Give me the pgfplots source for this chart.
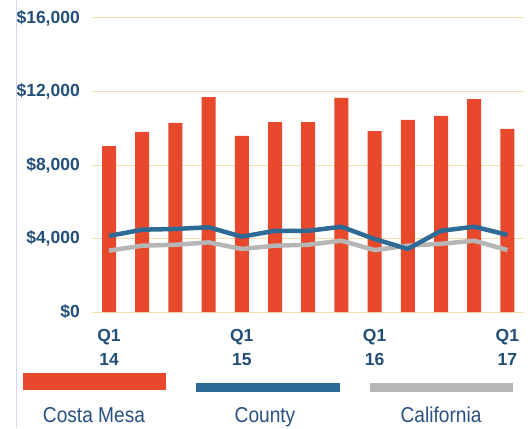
\documentclass[border=0pt]{standalone}
\usepackage{fontspec}
\setmainfont{Liberation Sans}
\newfontfamily\narrowfont{Liberation Sans}[FakeStretch=0.89]
\usepackage{pgfplots}
\pgfplotsset{compat=1.18}
\definecolor{cmred}{RGB}{232,72,44}
\definecolor{cblue}{RGB}{46,106,150}
\definecolor{cgray}{RGB}{182,182,182}
\definecolor{txtblue}{RGB}{34,78,120}
\definecolor{lgblue}{RGB}{40,80,130}
\definecolor{gridc}{RGB}{248,222,175}
\definecolor{lav}{RGB}{214,214,240}
\pgfplotstableread{
x cm county ca
0 9030 4140 3340
1 9800 4480 3610
2 10290 4520 3660
3 11700 4610 3790
4 9580 4100 3430
5 10340 4420 3610
6 10340 4420 3660
7 11650 4640 3880
8 9850 3970 3370
9 10450 3430 3610
10 10670 4420 3710
11 11590 4640 3880
12 9960 4200 3370
}\datatable
\begin{document}
\begin{tikzpicture}[x=1bp,y=1bp]
\useasboundingbox (0,0) rectangle (528,428);
\fill[white] (0,0) rectangle (528,428);
\draw[color=lav, line width=1.5bp] (16.5,0) -- (16.5,428);
\begin{axis}[
  at={(92.4bp,116bp)}, anchor=south west,
  scale only axis, width=431.6bp, height=294bp,
  xmin=-0.5, xmax=12.5, ymin=0, ymax=16000,
  scaled y ticks=false,
  axis line style={draw=none},
  major tick length=0pt,
  ymajorgrids, grid style={color=gridc, line width=1bp},
  ytick={0,4000,8000,12000,16000},
  yticklabels={{\$0},{\$4,000},{\$8,000},{\$12,000},{\$16,000}},
  yticklabel style={inner sep=0pt, xshift=-12.4bp, font=\fontsize{17.5bp}{20bp}\selectfont\bfseries, text=txtblue},
  xtick={0,4,8,12},
  xticklabels={{Q1\\14},{Q1\\15},{Q1\\16},{Q1\\17}},
  xticklabel style={inner sep=0pt, yshift=-17bp, align=center, font=\fontsize{17.5bp}{24bp}\selectfont\bfseries, text=txtblue},
  clip=false,
]
\addplot[ybar, bar width=14bp, fill=cmred, draw=none] table[x=x, y=cm] {\datatable};
\addplot[color=cgray, line width=4.5bp, line join=round, mark=none] table[x=x, y=ca] {\datatable};
\addplot[color=cblue, line width=4.5bp, line join=round, mark=none] table[x=x, y=county] {\datatable};
\end{axis}
\fill[cmred] (23,38) rectangle (166,55);
\fill[cblue] (196,36) rectangle (340,45);
\fill[cgray] (370,36) rectangle (513,45);
\node[anchor=base, inner sep=0pt, text=lgblue, font=\narrowfont\fontsize{21.5bp}{24bp}\selectfont] at (94,6) {Costa Mesa};
\node[anchor=base, inner sep=0pt, text=lgblue, font=\narrowfont\fontsize{21.5bp}{24bp}\selectfont] at (265,6) {County};
\node[anchor=base, inner sep=0pt, text=lgblue, font=\narrowfont\fontsize{21.5bp}{24bp}\selectfont] at (441,6) {California};
\end{tikzpicture}
\end{document}
